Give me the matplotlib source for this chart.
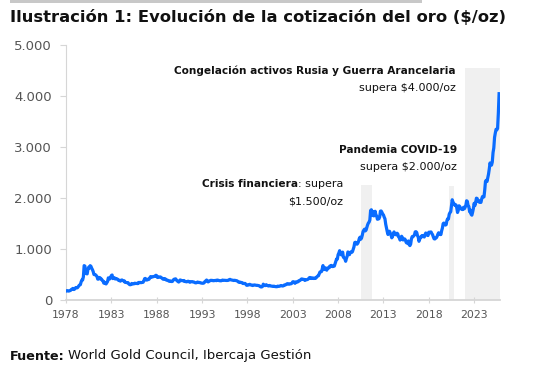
import matplotlib
matplotlib.use("Agg")
import matplotlib.pyplot as plt
import numpy as np

# monthly gold price ($/oz), Jan 1978 onwards
gold_1978_1983 = [
    175, 182, 184, 175, 177, 183, 188, 206, 212, 227, 206, 208,
    227, 245, 242, 239, 257, 279, 295, 301, 355, 392, 392, 456,
    675, 665, 553, 517, 513, 600, 644, 627, 674, 661, 623, 595,
    557, 500, 499, 496, 480, 460, 409, 410, 443, 437, 413, 410,
    384, 374, 330, 350, 334, 315, 339, 364, 435, 422, 414, 444,
    481, 491, 420, 432, 438, 413, 422, 416, 411, 393, 382, 388,
]
gold_1984_1991 = [
    370, 386, 394, 381, 377, 378, 347, 348, 341, 340, 341, 320,
    303, 299, 304, 325, 316, 317, 317, 330, 323, 326, 325, 322,
    345, 339, 346, 340, 342, 343, 348, 376, 418, 424, 395, 391,
    408, 401, 409, 438, 460, 450, 450, 460, 460, 465, 467, 486,
    477, 442, 443, 452, 451, 452, 437, 431, 413, 406, 420, 419,
    404, 388, 390, 385, 371, 367, 375, 365, 362, 367, 393, 409,
    410, 416, 393, 374, 369, 352, 362, 394, 389, 380, 381, 377,
    383, 364, 363, 358, 357, 367, 368, 356, 348, 358, 360, 361,
]
gold_1992_1999 = [
    354, 354, 345, 338, 337, 341, 353, 343, 345, 344, 335, 334,
    329, 330, 330, 342, 367, 372, 392, 379, 355, 364, 374, 383,
    387, 382, 384, 378, 381, 385, 385, 380, 391, 389, 384, 379,
    379, 376, 382, 391, 385, 387, 386, 383, 383, 383, 386, 387,
    400, 405, 396, 393, 392, 385, 383, 387, 383, 381, 378, 369,
    355, 347, 352, 344, 344, 341, 324, 324, 323, 325, 306, 289,
    289, 297, 296, 308, 300, 292, 293, 284, 289, 296, 294, 291,
    287, 288, 286, 282, 277, 262, 256, 257, 265, 311, 293, 283,
]
gold_2000_2007 = [
    284, 300, 286, 280, 275, 285, 282, 274, 273, 270, 266, 272,
    266, 262, 263, 260, 272, 270, 268, 273, 283, 283, 276, 275,
    282, 296, 294, 302, 314, 321, 314, 310, 319, 317, 319, 333,
    357, 359, 340, 328, 355, 356, 351, 360, 379, 379, 389, 407,
    414, 405, 406, 404, 384, 392, 398, 400, 406, 420, 439, 442,
    424, 423, 434, 429, 422, 430, 424, 437, 456, 470, 476, 510,
    549, 555, 557, 610, 676, 596, 633, 632, 598, 585, 627, 629,
    631, 665, 655, 679, 667, 655, 665, 665, 712, 754, 806, 803,
]
gold_2008_2015 = [
    889, 922, 968, 909, 888, 889, 940, 839, 829, 806, 760, 816,
    858, 943, 924, 890, 928, 946, 934, 949, 996, 1043, 1127, 1134,
    1118, 1095, 1113, 1148, 1205, 1233, 1193, 1215, 1271, 1343, 1370, 1391,
    1356, 1372, 1424, 1474, 1510, 1529, 1572, 1756, 1772, 1665, 1739, 1652,
    1656, 1742, 1673, 1650, 1585, 1596, 1594, 1630, 1745, 1747, 1721, 1688,
    1670, 1627, 1593, 1487, 1414, 1343, 1286, 1347, 1349, 1316, 1275, 1221,
    1244, 1300, 1336, 1299, 1287, 1279, 1311, 1296, 1239, 1222, 1176, 1200,
    1251, 1227, 1178, 1198, 1199, 1181, 1131, 1117, 1125, 1159, 1086, 1068,
]
gold_2016_2025 = [
    1097, 1199, 1245, 1242, 1260, 1276, 1337, 1341, 1326, 1266, 1236, 1152,
    1192, 1234, 1231, 1266, 1246, 1260, 1236, 1283, 1315, 1280, 1283, 1265,
    1331, 1331, 1325, 1335, 1303, 1282, 1238, 1202, 1198, 1215, 1221, 1250,
    1291, 1320, 1300, 1286, 1284, 1359, 1413, 1500, 1511, 1495, 1471, 1480,
    1560, 1597, 1592, 1683, 1715, 1732, 1846, 1968, 1922, 1900, 1866, 1858,
    1867, 1808, 1718, 1760, 1850, 1834, 1807, 1785, 1776, 1777, 1821, 1790,
    1817, 1856, 1948, 1937, 1849, 1836, 1732, 1764, 1681, 1665, 1726, 1798,
    1898, 1854, 1912, 1999, 1992, 1943, 1951, 1918, 1916, 1916, 1985, 2030,
    2033, 2024, 2159, 2331, 2350, 2326, 2399, 2470, 2571, 2690, 2651, 2648,
    2709, 2895, 2985, 3193, 3279, 3352, 3340, 3368, 3665, 4050,
]

start_year = 1978
year_ticks = [1978, 1983, 1988, 1993, 1998, 2003, 2008, 2013, 2018, 2023]
value_ticks = [0, 1000, 2000, 3000, 4000, 5000]

# shaded episodes
shade_start = [2010.55, 2020.2, 2022.0]
shade_end = [2011.7, 2020.75, 2025.85]
shade_top = [2250, 2230, 4560]

gold = np.array(gold_1978_1983 + gold_1984_1991 + gold_1992_1999
                + gold_2000_2007 + gold_2008_2015 + gold_2016_2025, dtype=float)
dates = start_year + np.arange(len(gold)) / 12.0

fig = plt.figure(figsize=(5.34, 3.67), dpi=100)
ax = fig.add_axes([66 / 534, 1 - 300 / 367, 434 / 534, 254.7 / 367])

for s, e, t in zip(shade_start, shade_end, shade_top):
    ax.fill_between([s, e], 0, t, color="#f0f0f0", lw=0, zorder=1)

ax.plot(dates, gold, color="#0a6cff", lw=2.3, zorder=3, solid_joinstyle="round")

ax.set_xlim(1978, 2025.85)
ax.set_ylim(0, 5000)
ax.set_xticks(year_ticks)
ax.set_xticklabels([str(y) for y in year_ticks])
ax.set_yticks(value_ticks)
ax.set_yticklabels([f"{v:,}".replace(",", ".") for v in value_ticks])

for side in ["top", "right"]:
    ax.spines[side].set_visible(False)
ax.spines["left"].set_color("#d6d6d6")
ax.spines["left"].set_linewidth(0.8)
ax.spines["bottom"].set_color("#d6d6d6")
ax.spines["bottom"].set_linewidth(1.3)
ax.tick_params(axis="y", colors="#d6d6d6", length=4, width=0.8, pad=6,
               labelcolor="#555555", labelsize=9.5)
ax.tick_params(axis="x", colors="#d6d6d6", length=4, width=0.8, pad=5,
               direction="inout", labelcolor="#555555", labelsize=7.8)

# top grey rule and title
fig.add_artist(plt.Rectangle((10 / 534, 1 - 3 / 367), 412 / 534, 3 / 367,
                             transform=fig.transFigure, color="#c8c8c8", lw=0))
fig.text(10 / 534, 1 - 17 / 367, "Ilustración 1: Evolución de la cotización del oro ($/oz)",
         fontsize=11.8, fontweight="heavy", va="center", ha="left", color="#111111")

# annotations
kw = dict(transform=fig.transFigure, va="center", color="#111111")
fig.text(456 / 534, 1 - 71 / 367, "Congelación activos Rusia y Guerra Arancelaria",
         ha="right", fontweight="bold", fontsize=7.6, **kw)
fig.text(456 / 534, 1 - 88 / 367, "supera $4.000/oz", ha="right", fontsize=8, **kw)
fig.text(457 / 534, 1 - 150 / 367, "Pandemia COVID-19", ha="right", fontweight="bold",
         fontsize=7.6, **kw)
fig.text(457 / 534, 1 - 167 / 367, "supera $2.000/oz", ha="right", fontsize=8, **kw)
t_norm = fig.text(343 / 534, 1 - 184 / 367, ": supera", ha="right", fontsize=8, **kw)
fig.text(343 / 534, 1 - 201 / 367, "$1.500/oz", ha="right", fontsize=8, **kw)

fig.canvas.draw()
r = fig.canvas.get_renderer()
bb = t_norm.get_window_extent(r)
fig.text(bb.x0 / fig.bbox.width, 1 - 184 / 367, "Crisis financiera", ha="right",
         fontweight="bold", fontsize=7.6, **kw)

# source
t_src = fig.text(10 / 534, 1 - 356 / 367, "Fuente:", ha="left", va="center",
                 fontsize=9.2, fontweight="bold", color="#111111")
fig.canvas.draw()
bb = t_src.get_window_extent(fig.canvas.get_renderer())
fig.text(bb.x1 / fig.bbox.width + 0.007, 1 - 356 / 367,
         "World Gold Council, Ibercaja Gestión", ha="left", va="center",
         fontsize=9.5, color="#111111")

fig.savefig("out.png", dpi=100)
